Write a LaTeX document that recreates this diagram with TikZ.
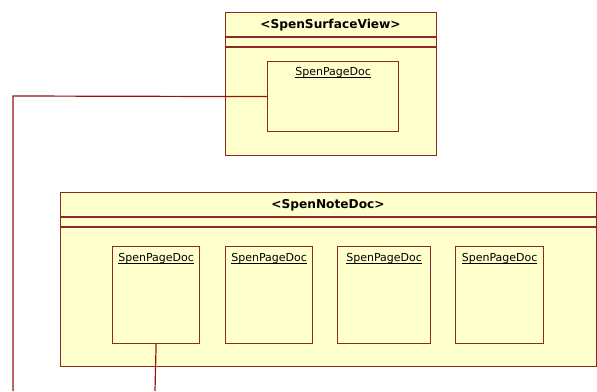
\documentclass[tikz,border=0pt]{standalone}
\usepackage{fontspec}
\setmainfont{DejaVu Sans}
\newcommand{\myul}[1]{\setbox0\hbox{#1}\rlap{\rule[-1.9pt]{\wd0}{0.7pt}}\box0}
\begin{document}
\begin{tikzpicture}[x=1pt,y=-1pt]
\definecolor{umlfill}{RGB}{255,255,204}
\definecolor{umlline}{RGB}{140,40,40}
\definecolor{conn}{RGB}{150,20,20}
\tikzset{
  frame/.style={draw=umlline,fill=umlfill,line width=1.2pt},
  sep/.style={draw=umlline,line width=1.2pt},
  pagebox/.style={draw=umlline,fill=umlfill,line width=1.2pt,rectangle,inner sep=0pt},
  pagelabel/.style={font=\fontsize{11}{13}\selectfont,anchor=north,inner sep=0pt},
  titletext/.style={font=\bfseries\fontsize{12.2}{14}\selectfont,inner sep=0pt},
  connector/.style={draw=conn,line width=1.2pt}
}
\useasboundingbox (0,0) rectangle (597,391);
% top package
\node[frame,rectangle,minimum width=211pt,minimum height=143pt,anchor=north west,inner sep=0pt] (sv) at (225,12) {};
\draw[sep] (225,37) -- (436,37);
\draw[sep] (225,47) -- (436,47);
\node[titletext] (svt) at (330.5,25) {<SpenSurfaceView>};
\node[pagebox,minimum width=131pt,minimum height=70pt,anchor=north west] (p0) at (267,61) {};
\node[pagelabel] (p0t) at ([yshift=-6pt]p0.north) {\myul{SpenPageDoc}};
% bottom package
\node[frame,rectangle,minimum width=536pt,minimum height=174pt,anchor=north west,inner sep=0pt] (nd) at (60,192) {};
\draw[sep] (60,217) -- (596,217);
\draw[sep] (60,227) -- (596,227);
\node[titletext] (ndt) at (328,205) {<SpenNoteDoc>};
\node[pagebox,minimum width=87pt,minimum height=97pt,anchor=north west] (p1) at (112,246) {};
\node[pagebox,minimum width=87pt,minimum height=97pt,anchor=north west] (p2) at (225,246) {};
\node[pagebox,minimum width=93pt,minimum height=97pt,anchor=north west] (p3) at (337,246) {};
\node[pagebox,minimum width=88pt,minimum height=97pt,anchor=north west] (p4) at (455,246) {};
\node[pagelabel] (p1t) at ([yshift=-7pt]p1.north) {\myul{SpenPageDoc}};
\node[pagelabel] (p2t) at ([yshift=-7pt]p2.north) {\myul{SpenPageDoc}};
\node[pagelabel] (p3t) at ([yshift=-7pt]p3.north) {\myul{SpenPageDoc}};
\node[pagelabel] (p4t) at ([yshift=-7pt]p4.north) {\myul{SpenPageDoc}};
% connectors
\coordinate (e1) at (13,391);
\coordinate (e2) at (155,391);
\draw[connector] (p0.west) -- (13,96) -- (e1);
\draw[connector] (p1.south) -- (e2);
\end{tikzpicture}
\end{document}
